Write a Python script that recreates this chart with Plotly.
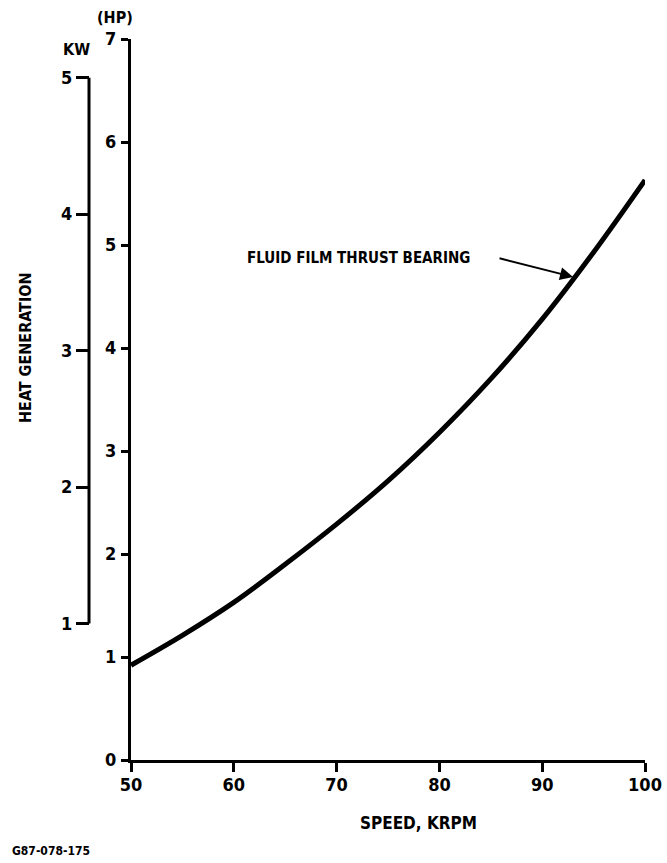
import plotly.graph_objects as go

# ---- data ----
speed_krpm = [50, 55, 60, 65, 70, 75, 80, 85, 90, 95, 100]
heat_hp = [0.92, 1.21, 1.53, 1.90, 2.29, 2.71, 3.18, 3.70, 4.28, 4.93, 5.63]

x_ticks = [50, 60, 70, 80, 90, 100]
hp_ticks = [0, 1, 2, 3, 4, 5, 6, 7]
kw_ticks = [1, 2, 3, 4, 5]
HP_PER_KW = 1.325  # as drawn on the scale

curve_label = "FLUID FILM THRUST BEARING"
arrow_at_speed = 93.0
arrow_at_hp = 4.69

FONT = "Liberation Sans Narrow, DejaVu Sans Condensed, Arial Narrow, sans-serif"
W, H = 667, 863
# page-pixel geometry of the plot area
PX_L, PX_R, PX_T, PX_B = 131, 645, 39, 760
ML = 20
MR = W - PX_R
MT = PX_T
MB = H - PX_B
plot_w = W - ML - MR
plot_h = H - MT - MB
x_dom0 = (PX_L - ML) / plot_w


def px(xpage):
    return (xpage - ML) / plot_w


def py(ypage):
    return (PX_B - ypage) / plot_h


kw_pos = px(89)

fig = go.Figure()
fig.add_trace(go.Scatter(
    x=speed_krpm, y=heat_hp, mode="lines",
    line=dict(color="black", width=5, shape="spline"),
    showlegend=False, hoverinfo="skip",
))
# invisible trace to activate the KW axis
fig.add_trace(go.Scatter(
    x=[speed_krpm[0]], y=[kw_ticks[0]], yaxis="y2", mode="markers",
    marker=dict(opacity=0), showlegend=False, hoverinfo="skip",
))

fig.update_layout(
    width=W, height=H,
    margin=dict(l=ML, r=MR, t=MT, b=MB, autoexpand=False),
    paper_bgcolor="white", plot_bgcolor="white",
    font=dict(family=FONT, color="black", weight="bold"),
    xaxis=dict(
        domain=[x_dom0, 1], range=[50, 100], tickvals=x_ticks,
        showgrid=False, zeroline=False, showline=True, linecolor="black", linewidth=3,
        ticks="outside", ticklen=9, tickwidth=3, tickcolor="black",
        tickfont=dict(size=18, family=FONT, weight="bold"),
        ticklabelstandoff=-3, ticklabeloverflow="allow",
        anchor="y", automargin=False,
    ),
    yaxis=dict(
        range=[0, 7], tickvals=hp_ticks,
        showgrid=False, zeroline=False, showline=True, linecolor="black", linewidth=3,
        ticks="outside", ticklen=7, tickwidth=3, tickcolor="black",
        tickfont=dict(size=18, family=FONT, weight="bold"),
        ticklabelstandoff=1, ticklabeloverflow="allow",
        anchor="x", automargin=False,
    ),
    yaxis2=dict(
        overlaying="y", anchor="free", position=kw_pos, side="left",
        range=[0, 7 / HP_PER_KW], tickvals=kw_ticks,
        showgrid=False, zeroline=False, showline=False,
        ticks="outside", ticklen=13, tickwidth=3, tickcolor="black",
        tickfont=dict(size=18, family=FONT, weight="bold"),
        ticklabelstandoff=0, ticklabeloverflow="allow", automargin=False,
    ),
)

# KW scale spine between its end ticks
fig.add_shape(type="line", xref="paper", yref="y2",
              x0=kw_pos, x1=kw_pos, y0=kw_ticks[0], y1=kw_ticks[-1],
              line=dict(color="black", width=3))

ann_font = dict(family=FONT, color="black", weight="bold")


def label(xp, yp, text, size, xanchor="center", angle=0):
    fig.add_annotation(x=px(xp), y=py(yp), xref="paper", yref="paper", text=text,
                       xanchor=xanchor, yanchor="middle", textangle=angle,
                       showarrow=False, font=dict(size=size, **ann_font))


label(76, 50, "KW", 16)
label(115, 17, "(HP)", 16)
label(25, 348, "HEAT GENERATION", 16, angle=-90)
label(418, 823, "SPEED, KRPM", 17)
label(10, 851, "G87-078-175", 12, xanchor="left")
label(245, 258, curve_label, 15, xanchor="left")

fig.add_annotation(x=arrow_at_speed, y=arrow_at_hp, xref="x", yref="y", text="",
                   showarrow=True, ax=-75, ay=-19, arrowhead=2, arrowsize=1.3,
                   arrowwidth=2, arrowcolor="black")

fig.write_html(
    "out.html",
    config={"displayModeBar": False, "staticPlot": True},
    post_script="document.body.style.margin='0';document.body.style.overflow='hidden';",
)
